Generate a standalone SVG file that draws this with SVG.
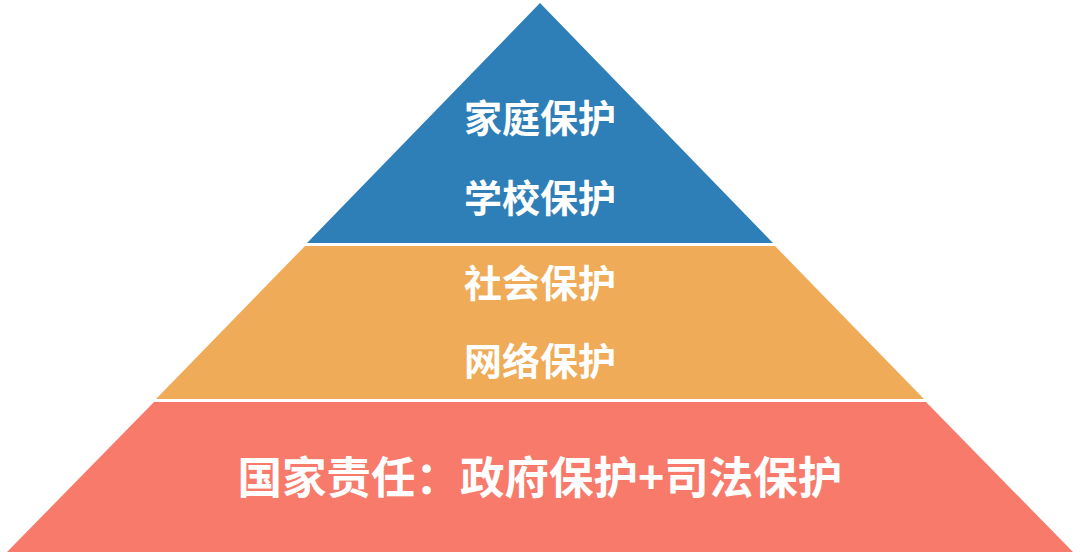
<svg xmlns="http://www.w3.org/2000/svg" width="1080" height="558" viewBox="0 0 1080 558">
  <style>
    .lbl { font-family: "Noto Sans CJK SC", "Noto Sans", sans-serif; font-weight: 700; fill: #FFFFFF; text-anchor: middle; dominant-baseline: central; }
    .s { font-size: 38px; }
    .b { font-size: 44.5px; }
  </style>
  <rect width="1080" height="558" fill="#FFFFFF"/>
  <g id="tier-top">
    <polygon points="540,3 773,243 307,243" fill="#2E7FB7"/>
    <text class="lbl s" x="540" y="115">家庭保护</text>
    <text class="lbl s" x="540" y="195">学校保护</text>
  </g>
  <g id="tier-middle">
    <polygon points="305,246 775,246 924,399 156,399" fill="#EFAB57"/>
    <text class="lbl s" x="540" y="280">社会保护</text>
    <text class="lbl s" x="540" y="358">网络保护</text>
  </g>
  <g id="tier-bottom">
    <polygon points="154,402 926,402 1073,552 7,552" fill="#F77A6B"/>
    <text class="lbl b" x="540" y="474">国家责任：政府保护+司法保护</text>
  </g>
  <g id="connectors"></g>
</svg>
